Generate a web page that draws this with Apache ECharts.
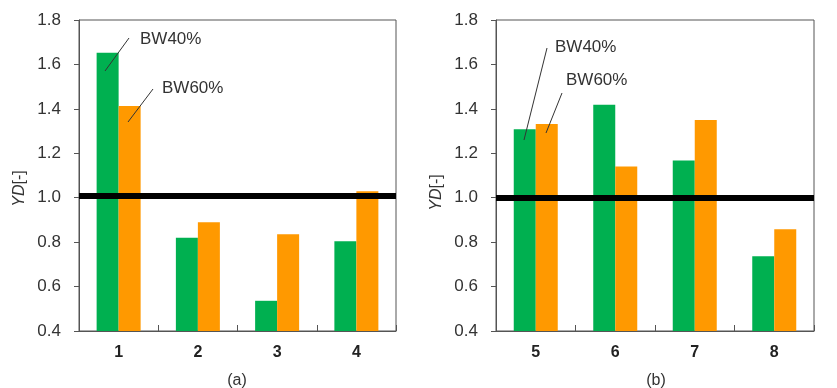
<!DOCTYPE html>
<html>
<head>
<meta charset="utf-8">
<script src="https://cdn.jsdelivr.net/npm/echarts@6/dist/echarts.min.js"></script>
<style>html,body{margin:0;padding:0;background:#fff}#c{width:837px;height:388px}</style>
</head>
<body>
<div id="c"></div>
<script>
const categoriesA = ['1', '2', '3', '4'];
const categoriesB = ['5', '6', '7', '8'];
const bw40A = [1.653, 0.820, 0.536, 0.804];
const bw60A = [1.413, 0.889, 0.835, 1.029];
const bw40B = [1.308, 1.419, 1.168, 0.736];
const bw60B = [1.332, 1.141, 1.350, 0.858];
const refLineA = 1.01;
const refLineB = 1.0;
const yMin = 0.4, yMax = 1.8, yStep = 0.2;
const panelLabels = ['(a)', '(b)'];
const seriesNames = ['BW40%', 'BW60%'];

const FONT = 'Liberation Sans, Arial, sans-serif';
const TXT = '#333';
const AX = '#555';
const GREEN = '#00B050';
const ORANGE = '#FF9900';

const chart = echarts.init(document.getElementById('c'), null, {renderer: 'canvas'});

function xAxis(gi, cats) {
  return {
    type: 'category', gridIndex: gi, data: cats,
    axisLine: {show: true, lineStyle: {color: AX, width: 1}},
    axisTick: {show: true, inside: true, length: 6, lineStyle: {color: AX}},
    axisLabel: {fontFamily: FONT, fontSize: 16, fontWeight: 'bold', color: '#222', margin: 14},
    splitLine: {show: false}
  };
}
function yAxis(gi, shift) {
  return {
    type: 'value', gridIndex: gi, min: yMin, max: yMax, interval: yStep,
    name: '{i|YD}[-]', nameLocation: 'middle', nameGap: 51, nameRotate: 90,
    nameTextStyle: {fontFamily: FONT, fontSize: 16, color: TXT, padding: [0, shift, 0, 0],
      rich: {i: {fontStyle: 'italic', fontFamily: FONT, fontSize: 16, color: TXT}}},
    axisLine: {show: true, lineStyle: {color: AX, width: 1}},
    axisTick: {show: true, inside: false, length: 5, lineStyle: {color: AX}},
    axisLabel: {fontFamily: FONT, fontSize: 17, color: TXT, margin: 18,
      formatter: v => v.toFixed(1)},
    splitLine: {show: false}
  };
}
function refLine(v) {
  return {
    silent: true, symbol: ['none', 'none'],
    lineStyle: {color: '#000', width: 6, type: 'solid'},
    label: {show: false},
    data: [{yAxis: v}]
  };
}
function bar(name, data, color, idx, ml) {
  const s = {
    name, type: 'bar', data, xAxisIndex: idx, yAxisIndex: idx,
    barWidth: 22, barGap: '0%', itemStyle: {color},
    z: 2
  };
  if (ml !== undefined) s.markLine = refLine(ml);
  return s;
}

const lineStyle = {stroke: '#333', lineWidth: 1};
function txt(x, y, t) {
  return {type: 'text', x, y, style: {text: t, font: '17px ' + FONT, fill: TXT, textAlign: 'left', textVerticalAlign: 'middle'}};
}
function seg(x1, y1, x2, y2) {
  return {type: 'line', shape: {x1, y1, x2, y2}, style: lineStyle, z: 100};
}

chart.setOption({
  animation: false,
  backgroundColor: '#fff',
  grid: [
    {left: 79, right: 441, top: 20, bottom: 57, show: true, borderColor: AX, borderWidth: 1, backgroundColor: 'transparent'},
    {left: 496, right: 23, top: 20, bottom: 57, show: true, borderColor: AX, borderWidth: 1, backgroundColor: 'transparent'}
  ],
  xAxis: [xAxis(0, categoriesA), xAxis(1, categoriesB)],
  yAxis: [yAxis(0, 26), yAxis(1, 34)],
  series: [
    bar(seriesNames[0], bw40A, GREEN, 0),
    bar(seriesNames[1], bw60A, ORANGE, 0, refLineA),
    bar(seriesNames[0], bw40B, GREEN, 1),
    bar(seriesNames[1], bw60B, ORANGE, 1, refLineB)
  ],
  graphic: [
    txt(140, 39, seriesNames[0]),
    seg(105, 71, 129, 38),
    txt(162, 88, seriesNames[1]),
    seg(128, 122, 153, 89),
    txt(555, 47, seriesNames[0]),
    seg(524, 140, 547, 48),
    txt(566, 80, seriesNames[1]),
    seg(546, 133, 562, 93),
    {type: 'text', x: 237, y: 381, style: {text: panelLabels[0], font: '16px ' + FONT, fill: TXT, textAlign: 'center', textVerticalAlign: 'middle'}},
    {type: 'text', x: 656, y: 381, style: {text: panelLabels[1], font: '16px ' + FONT, fill: TXT, textAlign: 'center', textVerticalAlign: 'middle'}}
  ]
});
</script>
</body>
</html>
